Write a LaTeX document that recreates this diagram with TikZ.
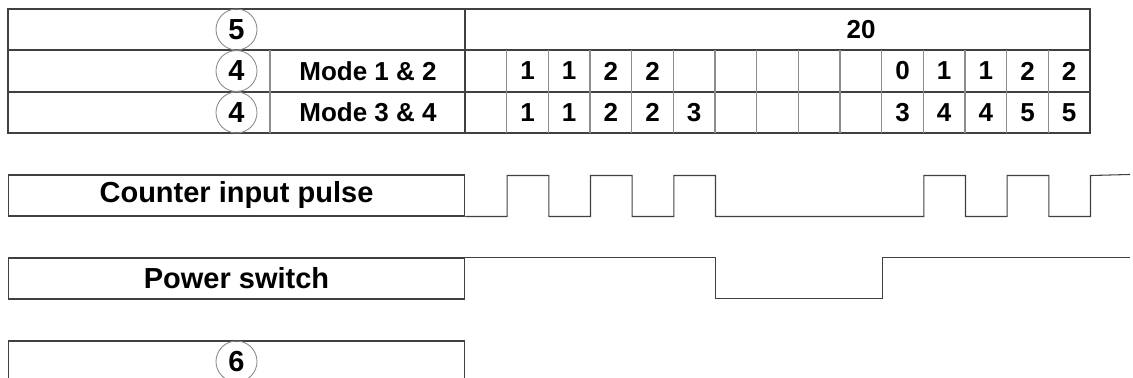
\documentclass[tikz,border=0pt]{standalone}
\usepackage{fontspec}
\setmainfont{Liberation Sans}
\usetikzlibrary{positioning,calc}
\definecolor{rule}{HTML}{404040}
\definecolor{grid}{HTML}{8C8C8C}

\begin{document}
\begin{tikzpicture}[x=0.02cm, y=-0.02cm,
  tline/.style={draw=rule, line width=0.6pt},
  gline/.style={draw=grid, line width=0.6pt},
  cell/.style={font=\fontsize{14.8pt}{16pt}\selectfont\bfseries, inner sep=0pt},
  numcirc/.style={circle, draw=grid, line width=0.5pt, minimum size=0.82cm, inner sep=0pt, font=\fontsize{16.5pt}{19pt}\selectfont\bfseries},
  sigbox/.style={rectangle, draw=rule, line width=0.6pt, minimum width=9.14cm, minimum height=0.82cm, inner sep=0pt, font=\fontsize{16.5pt}{19pt}\selectfont\bfseries},
  wave/.style={draw=rule, line width=0.6pt}
]
  \useasboundingbox (0,0) rectangle (1133,378);
  \clip (0,0) rectangle (1133,378);
  \def\c{41.667}

  % table
  \draw[tline] (8,9) rectangle (1090,133);
  \draw[tline] (8,50) -- (1090,50);
  \draw[tline] (8,92) -- (1090,92);
  \draw[tline] (465,9) -- (465,133);
  \draw[gline] (270,50) -- (270,133);
  \foreach \i in {1,...,14}
    \draw[gline] ({465+\c*\i},50) -- ({465+\c*\i},133);

  \node[numcirc] (c5) at (236.5,29.5) {5};
  \node[numcirc] (c4a) at (236.5,71) {4};
  \node[numcirc] (c4b) at (236.5,112.5) {4};
  \node[cell] (m12) at (368,71) {Mode 1 \& 2};
  \node[cell] (m34) at (368,112.5) {Mode 3 \& 4};
  \node[cell] (total) at (861,29.5) {20};

  \foreach \i/\v in {2/1,3/1,4/2,5/2,11/0,12/1,13/1,14/2,15/2}
    \node[cell] (a\i) at ({465+\c*(\i-0.5)},71) {\v};
  \foreach \i/\v in {2/1,3/1,4/2,5/2,6/3,11/3,12/4,13/4,14/5,15/5}
    \node[cell] (b\i) at ({465+\c*(\i-0.5)},112.5) {\v};

  % signals
  \coordinate (wend) at (1130,0);
  \node[sigbox] (cnt) at (236.5,195.5) {Counter input pulse};
  \node[sigbox] (pwr) at (236.5,278.5) {Power switch};
  \node[sigbox] (spare) at (236.5,361.5) {};
  \node[numcirc] (c6) at (spare.center) {6};

  \draw[wave] (cnt.south east) -- ++(\c,0) -- ++(0,-41) -- ++(\c,0) -- ++(0,41)
    -- ++(\c,0) -- ++(0,-41) -- ++(\c,0) -- ++(0,41)
    -- ++(\c,0) -- ++(0,-41) -- ++(\c,0) -- ++(0,41)
    -- ++(5*\c,0) -- ++(0,-41) -- ++(\c,0) -- ++(0,41)
    -- ++(\c,0) -- ++(0,-41) -- ++(\c,0) -- ++(0,41)
    -- ++(\c,0) -- ++(0,-41) -- (wend |- cnt.north);
  \draw[wave] (pwr.north east) -- ++(6*\c,0) -- ++(0,41) -- ++(4*\c,0) -- ++(0,-41)
    -- (wend |- pwr.north);
\end{tikzpicture}
\end{document}
